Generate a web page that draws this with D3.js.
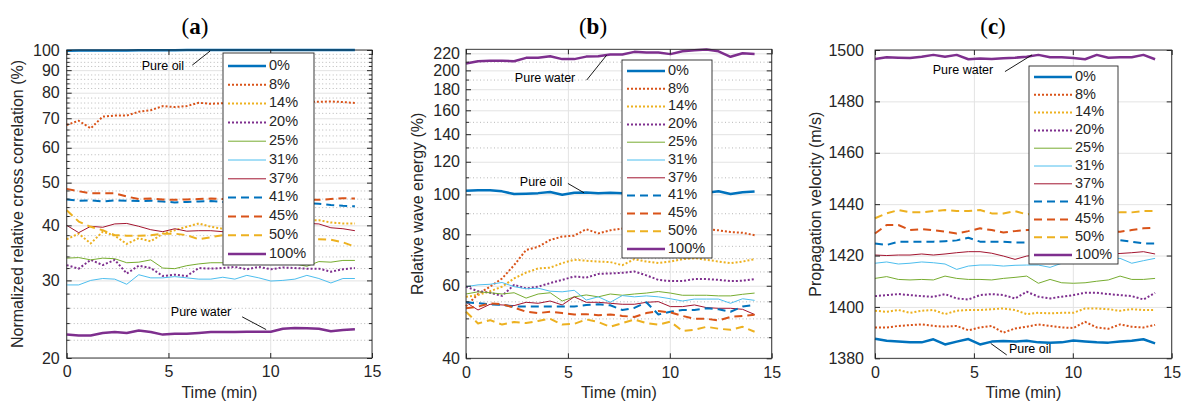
<!DOCTYPE html>
<html>
<head>
<meta charset="utf-8">
<script src="https://cdn.jsdelivr.net/npm/d3@7"></script>
<style>
  body { margin: 0; background: #fff; }
  svg text { font-family: 'Liberation Sans', Arial, sans-serif; fill: #262626; }
</style>
</head>
<body>
<svg id="chart" width="1182" height="405"></svg>
<script>
  // time axis (min), shared by all three panels
  var time = [0, 0.59, 1.18, 1.77, 2.36, 2.95, 3.54, 4.13, 4.72, 5.31, 5.9, 6.49, 7.08,
    7.67, 8.26, 8.85, 9.44, 10.03, 10.62, 11.21, 11.8, 12.39, 12.98, 13.57, 14.16];

  var labels = ['0%', '8%', '14%', '20%', '25%', '31%', '37%', '41%', '45%', '50%', '100%'];
  var colors = ['#0072BD', '#D95319', '#EDB120', '#7E2F8E', '#77AC30', '#4DBEEE', '#A2142F',
    '#0072BD', '#D95319', '#EDB120', '#7E2F8E'];
  var styles = ['thick', 'dot', 'dot', 'dot', 'thin', 'thin', 'thin', 'dash', 'dash', 'dash', 'thick'];

  var xTicks = [0, 5, 10, 15];

  // (a) normalized relative cross correlation (%)
  var corrValues = [
    [99.6, 99.7, 99.7, 99.8, 99.8, 99.8, 99.9, 99.9, 99.9, 99.9, 100, 100, 100, 100, 100, 100, 100, 100, 100, 100, 100, 100, 100, 100, 100],
    [67.6, 69.1, 66.4, 70.6, 71.0, 71.0, 72.4, 73.0, 74.6, 74.2, 74.6, 75.9, 75.5, 75.7, 76.0, 76.2, 76.0, 76.3, 76.5, 76.2, 76.4, 76.3, 76.4, 76.2, 75.8],
    [37.2, 38.3, 36.4, 38.7, 37.9, 36.3, 37.4, 36.8, 38.3, 39.0, 39.7, 40.4, 39.7, 39.3, 40.0, 40.5, 40.2, 40.8, 41.0, 40.6, 41.1, 41.1, 40.6, 40.4, 40.4],
    [32.5, 31.9, 33.4, 32.5, 33.4, 31.1, 32.4, 32.0, 30.7, 30.9, 30.7, 32.0, 31.9, 32.0, 32.2, 31.8, 32.2, 31.8, 32.1, 32.0, 31.9, 31.9, 31.4, 31.8, 32.0],
    [33.7, 33.8, 33.4, 33.7, 33.6, 32.9, 33.0, 33.4, 32.0, 31.9, 32.4, 32.7, 32.9, 32.9, 32.8, 33.0, 32.8, 32.9, 33.0, 32.7, 32.3, 33.1, 33.0, 33.3, 33.3],
    [29.3, 29.3, 30.0, 30.3, 30.2, 29.4, 30.9, 30.4, 30.4, 30.6, 30.4, 30.2, 30.2, 30.5, 30.2, 30.8, 30.4, 29.9, 30.0, 30.2, 30.8, 30.3, 29.6, 30.3, 30.3],
    [40.0, 38.5, 39.8, 39.6, 40.3, 40.4, 39.8, 39.1, 38.7, 39.3, 38.8, 38.9, 38.9, 38.7, 39.0, 39.5, 39.8, 40.0, 40.2, 40.3, 40.4, 40.3, 39.5, 39.3, 38.9],
    [45.8, 45.5, 45.6, 45.3, 45.6, 45.5, 45.4, 45.5, 45.3, 45.1, 45.2, 45.3, 45.4, 45.2, 45.3, 45.1, 45.0, 45.0, 45.1, 45.0, 44.9, 44.8, 44.5, 44.3, 44.2],
    [48.4, 47.8, 47.3, 47.3, 47.3, 46.5, 45.9, 46.0, 45.8, 45.7, 45.8, 45.9, 46.0, 45.9, 46.0, 45.9, 45.8, 45.9, 45.9, 46.0, 45.8, 45.7, 45.9, 46.1, 46.0],
    [43.3, 40.8, 39.7, 39.0, 38.0, 37.9, 37.9, 38.0, 38.3, 38.3, 38.0, 37.2, 37.6, 38.0, 37.8, 37.5, 37.6, 37.4, 37.5, 37.4, 37.2, 37.2, 37.1, 36.6, 35.8],
    [22.6, 22.5, 22.5, 22.8, 22.9, 22.8, 23.1, 22.9, 22.6, 22.7, 22.7, 22.8, 22.9, 22.9, 22.9, 22.95, 22.95, 22.95, 23.3, 23.4, 23.35, 23.3, 23.0, 23.15, 23.25]
  ];
  var corrTicks = [20, 30, 40, 50, 60, 70, 80, 90, 100];

  // (b) relative wave energy (%)
  var energyValues = [
    [102.0, 102.3, 102.3, 101.7, 100.2, 100.4, 100.7, 101.3, 99.8, 100.9, 101.1, 100.7, 100.9, 100.7, 100.5, 100.6, 100.8, 100.6, 100.4, 100.8, 100.9, 101.8, 100.2, 101.2, 101.6],
    [53.5, 57.3, 59.7, 62.5, 67.3, 73.3, 74.6, 77.5, 79.0, 79.4, 82.3, 80.4, 81.8, 82.6, 82.0, 82.5, 81.8, 82.2, 82.6, 82.0, 82.4, 81.8, 81.0, 80.7, 79.6],
    [56.4, 57.0, 58.2, 59.7, 62.5, 64.6, 66.1, 66.4, 68.1, 69.4, 69.0, 68.7, 68.5, 67.3, 69.6, 68.7, 68.1, 68.7, 69.6, 70.0, 69.4, 68.7, 68.1, 68.7, 69.6],
    [59.7, 58.2, 57.7, 56.7, 60.3, 59.1, 59.7, 60.9, 62.0, 63.2, 62.8, 64.1, 64.3, 64.5, 65.0, 63.6, 62.0, 61.6, 61.6, 62.3, 62.3, 62.0, 61.6, 61.7, 62.3],
    [57.3, 58.0, 57.7, 57.3, 57.7, 56.0, 57.3, 57.7, 55.1, 56.4, 57.0, 56.4, 57.3, 56.9, 57.3, 57.6, 58.1, 57.6, 56.9, 56.9, 56.9, 56.7, 56.7, 57.2, 57.6],
    [59.7, 60.3, 60.5, 61.1, 59.7, 59.0, 59.2, 58.2, 58.0, 58.5, 55.4, 56.4, 54.7, 56.8, 56.4, 56.7, 56.4, 55.8, 55.1, 55.7, 55.7, 55.7, 54.4, 55.8, 55.3],
    [54.7, 52.4, 54.1, 53.9, 53.7, 54.7, 54.4, 55.1, 53.9, 56.4, 54.7, 54.7, 54.4, 54.1, 54.1, 54.7, 54.9, 53.4, 53.4, 53.9, 53.1, 52.9, 52.9, 52.6, 51.1],
    [54.7, 54.4, 54.1, 53.9, 53.4, 53.4, 53.4, 53.4, 53.4, 53.4, 53.9, 54.1, 53.8, 52.4, 53.0, 54.7, 51.1, 51.9, 52.4, 52.4, 52.9, 52.6, 51.9, 53.4, 53.9],
    [52.9, 53.4, 54.4, 54.1, 53.1, 51.9, 51.5, 51.9, 51.5, 51.1, 51.2, 50.9, 51.1, 50.7, 50.4, 51.5, 52.1, 51.7, 50.7, 49.9, 49.9, 49.4, 50.4, 50.7, 51.0],
    [51.9, 48.6, 49.5, 48.3, 49.0, 48.7, 49.3, 49.9, 48.3, 48.5, 49.7, 49.0, 47.7, 48.7, 49.7, 48.7, 48.3, 49.1, 46.6, 46.9, 47.7, 47.2, 46.9, 47.7, 46.4],
    [207.9, 210.5, 211.0, 211.0, 210.5, 214.5, 214.5, 216.5, 213.0, 213.0, 216.0, 216.5, 218.6, 218.6, 221.8, 221.0, 221.0, 219.0, 222.5, 223.9, 224.7, 222.5, 215.8, 220.0, 219.3]
  ];
  var energyTicks = [40, 60, 80, 100, 120, 140, 160, 180, 200, 220];
  var energyMinor = [45, 50, 55, 65, 70, 75, 90, 110, 130, 150, 170, 190, 210];

  // (c) propagation velocity (m/s)
  var velocityValues = [
    [1387.6, 1386.8, 1386.5, 1386.2, 1386.2, 1387.4, 1385.4, 1386.5, 1387.5, 1385.4, 1386.5, 1386.7, 1386.5, 1386.8, 1386.2, 1386.1, 1386.2, 1386.9, 1386.5, 1386.2, 1386.1, 1386.5, 1386.8, 1387.4, 1385.8],
    [1392.0, 1392.0, 1392.6, 1392.9, 1393.2, 1392.6, 1392.3, 1392.6, 1390.9, 1392.0, 1392.6, 1390.0, 1391.6, 1392.3, 1393.2, 1392.6, 1392.0, 1391.8, 1394.2, 1392.0, 1391.5, 1393.2, 1392.3, 1392.0, 1393.0],
    [1398.5, 1398.1, 1398.8, 1397.7, 1398.5, 1398.8, 1397.2, 1398.5, 1398.8, 1398.8, 1399.1, 1399.4, 1398.8, 1397.2, 1397.7, 1397.5, 1397.7, 1397.7, 1399.4, 1399.4, 1399.1, 1398.5, 1399.1, 1398.8, 1398.8],
    [1404.2, 1404.6, 1405.0, 1404.6, 1404.2, 1403.9, 1405.0, 1403.3, 1402.9, 1404.6, 1405.0, 1404.6, 1403.3, 1405.9, 1404.0, 1403.3, 1404.0, 1404.6, 1405.5, 1405.5, 1405.0, 1404.6, 1404.2, 1402.9, 1405.5],
    [1411.1, 1411.8, 1410.7, 1410.5, 1410.7, 1410.5, 1412.0, 1411.1, 1410.7, 1410.7, 1410.5, 1411.1, 1411.5, 1412.0, 1409.2, 1410.7, 1409.4, 1409.2, 1409.4, 1410.0, 1410.5, 1412.0, 1410.7, 1410.7, 1411.1],
    [1417.0, 1417.5, 1416.7, 1417.0, 1417.5, 1417.2, 1416.7, 1414.6, 1415.9, 1416.3, 1416.3, 1415.9, 1416.2, 1416.3, 1416.3, 1415.4, 1417.0, 1417.6, 1418.0, 1418.0, 1418.5, 1418.9, 1417.0, 1418.0, 1418.9],
    [1420.2, 1420.0, 1420.2, 1420.2, 1420.6, 1420.2, 1420.6, 1421.1, 1421.5, 1421.5, 1420.9, 1419.8, 1418.5, 1419.8, 1420.3, 1420.5, 1420.6, 1420.5, 1420.4, 1420.5, 1420.6, 1420.8, 1421.1, 1421.5, 1420.6],
    [1424.7, 1424.1, 1425.4, 1425.4, 1425.4, 1425.4, 1425.6, 1425.9, 1426.9, 1425.4, 1425.4, 1425.4, 1425.1, 1425.1, 1425.2, 1425.0, 1425.3, 1425.5, 1425.4, 1425.6, 1425.8, 1426.0, 1425.4, 1424.7, 1424.7],
    [1428.6, 1431.9, 1431.9, 1429.9, 1430.3, 1429.9, 1429.3, 1428.6, 1429.5, 1430.6, 1429.9, 1429.0, 1429.5, 1429.9, 1430.0, 1429.5, 1429.8, 1430.0, 1429.5, 1429.2, 1429.0, 1429.3, 1429.9, 1430.6, 1430.8],
    [1434.5, 1436.4, 1437.7, 1436.8, 1436.8, 1437.3, 1437.7, 1437.3, 1437.3, 1437.7, 1436.4, 1436.4, 1437.3, 1436.0, 1436.5, 1437.0, 1436.8, 1437.0, 1436.5, 1437.0, 1437.3, 1436.8, 1436.8, 1437.3, 1437.3],
    [1496.5, 1497.2, 1497.0, 1496.9, 1497.4, 1498.1, 1497.4, 1498.1, 1496.4, 1496.7, 1496.5, 1496.8, 1497.0, 1497.4, 1498.1, 1497.2, 1497.2, 1496.9, 1496.4, 1498.1, 1497.0, 1497.2, 1497.2, 1498.1, 1496.4]
  ];
  var velocityTicks = [1380, 1400, 1420, 1440, 1460, 1480, 1500];

  // annotations: [text, textT, textV, lineT1, lineV1, lineT2, lineV2]
  var corrNotes = [['Pure oil', 4.73, 91.5, 6.17, 92.4, 7.05, 99.5], ['Pure water', 6.6, 25.3, 8.62, 24.8, 9.8, 23.2]];
  var energyNotes = [['Pure water', 3.88, 191, 5.92, 189.4, 6.9, 217.7], ['Pure oil', 3.68, 106.7, 5.0, 106.3, 5.79, 100.9]];
  var velocityNotes = [['Pure water', 4.45, 1491.8, 6.57, 1491.6, 7.94, 1498.1], ['Pure oil', 7.84, 1383.2, 5.85, 1385.8, 6.66, 1381.3]];

  var svg = d3.select('#chart');

  var panels = [
    { title: '(a)', values: corrValues, log: true, domain: [20, 100], ticks: corrTicks,
      minor: d3.range(22, 100, 2).filter(d => d % 10 !== 0),
      yLabel: 'Normalized relative cross correlation (%)', notes: corrNotes,
      left: 66.7, right: 372, top: 50, bottom: 358, pad: 7, labelX: 19, titleX: 195,
      legend: { x: 223, y: 53, w: 91, h: 212, first: 66, step: 18.8 } },
    { title: '(b)', values: energyValues, log: true, domain: [40, 225], ticks: energyTicks,
      minor: energyMinor,
      yLabel: 'Relative wave energy (%)', notes: energyNotes,
      left: 466, right: 771.7, top: 49.3, bottom: 358.3, pad: 6, labelX: 418.5, titleX: 593,
      legend: { x: 622, y: 60, w: 90, h: 198, first: 71, step: 17.8 } },
    { title: '(c)', values: velocityValues, log: false, domain: [1380, 1500], ticks: velocityTicks,
      minor: [],
      yLabel: 'Propagation velocity (m/s)', notes: velocityNotes,
      left: 875, right: 1171.7, top: 50, bottom: 358.3, pad: 11, labelX: 817, titleX: 993,
      legend: { x: 1029, y: 66, w: 89, h: 198, first: 77, step: 17.8 } }
  ];

  function lineStyle(sel, i) {
    var s = styles[i];
    sel.attr('stroke', colors[i])
      .attr('fill', 'none')
      .attr('stroke-linejoin', 'round')
      .attr('stroke-width', s === 'thick' ? 2.5 : s === 'thin' ? 1 : 2)
      .attr('stroke-dasharray', s === 'dot' ? '2,2' : s === 'dash' ? '8,5' : null);
  }

  panels.forEach(function (p) {
    var g = svg.append('g');
    var w = p.right - p.left, h = p.bottom - p.top;
    var x = d3.scaleLinear().domain([0, 15]).range([p.left, p.right]);
    var y = (p.log ? d3.scaleLog() : d3.scaleLinear()).domain(p.domain).range([p.bottom, p.top]);

    // minor grid (dotted)
    g.append('g')
      .attr('transform', `translate(${p.left},0)`)
      .call(d3.axisLeft(y).tickValues(p.minor).tickSize(-w).tickFormat(''))
      .call(s => {
        s.select('.domain').remove();
        s.selectAll('line').attr('stroke', '#b8b8b8').attr('stroke-dasharray', '1,2.5');
      });

    // major grid
    g.append('g')
      .attr('transform', `translate(${p.left},0)`)
      .call(d3.axisLeft(y).tickValues(p.ticks).tickSize(-w).tickFormat(''))
      .call(s => { s.select('.domain').remove(); s.selectAll('line').attr('stroke', '#e3e3e3'); });
    g.append('g')
      .attr('transform', `translate(0,${p.bottom})`)
      .call(d3.axisBottom(x).tickValues(xTicks).tickSize(-h).tickFormat(''))
      .call(s => { s.select('.domain').remove(); s.selectAll('line').attr('stroke', '#e3e3e3'); });

    // data lines
    var line = d3.line().x((d, i) => x(time[i])).y(d => y(d));
    p.values.forEach(function (vals, i) {
      g.append('path').datum(vals).attr('d', line).call(lineStyle, i);
    });

    // annotations
    p.notes.forEach(function (n) {
      g.append('text')
        .attr('x', x(n[1])).attr('y', y(n[2]))
        .attr('text-anchor', 'middle').attr('dominant-baseline', 'middle')
        .style('font-size', '12.5px').style('fill', '#000')
        .text(n[0]);
      g.append('line')
        .attr('x1', x(n[3])).attr('y1', y(n[4]))
        .attr('x2', x(n[5])).attr('y2', y(n[6]))
        .attr('stroke', '#000').attr('stroke-width', 0.9);
    });

    // box
    g.append('rect')
      .attr('x', p.left).attr('y', p.top).attr('width', w).attr('height', h)
      .attr('fill', 'none').attr('stroke', '#262626').attr('stroke-width', 0.9);

    // ticks + labels
    var tickStyle = s => {
      s.select('.domain').remove();
      s.selectAll('line').attr('stroke', '#262626');
      s.selectAll('text').style('font-size', '16px').style('font-family', null);
    };
    g.append('g').attr('transform', `translate(${p.left},0)`)
      .call(d3.axisLeft(y).tickValues(p.ticks).tickSizeInner(-5).tickSizeOuter(0).tickPadding(p.pad).tickFormat(d3.format('d')))
      .call(tickStyle);
    g.append('g').attr('transform', `translate(${p.right},0)`)
      .call(d3.axisRight(y).tickValues(p.ticks).tickSizeInner(-5).tickSizeOuter(0).tickFormat(''))
      .call(tickStyle);
    g.append('g').attr('transform', `translate(${p.left},0)`)
      .call(d3.axisLeft(y).tickValues(p.minor).tickSizeInner(-3).tickSizeOuter(0).tickFormat(''))
      .call(tickStyle);
    g.append('g').attr('transform', `translate(${p.right},0)`)
      .call(d3.axisRight(y).tickValues(p.minor).tickSizeInner(-3).tickSizeOuter(0).tickFormat(''))
      .call(tickStyle);
    g.append('g').attr('transform', `translate(0,${p.bottom})`)
      .call(d3.axisBottom(x).tickValues(xTicks).tickSizeInner(-5).tickSizeOuter(0).tickPadding(8))
      .call(tickStyle);
    g.append('g').attr('transform', `translate(0,${p.top})`)
      .call(d3.axisTop(x).tickValues(xTicks).tickSizeInner(-5).tickSizeOuter(0).tickFormat(''))
      .call(tickStyle);

    // axis labels
    g.append('text')
      .attr('x', (p.left + p.right) / 2).attr('y', 398)
      .attr('text-anchor', 'middle').style('font-size', '16px')
      .text('Time (min)');
    g.append('text')
      .attr('transform', `translate(${p.labelX},${(p.top + p.bottom) / 2}) rotate(-90)`)
      .attr('text-anchor', 'middle').attr('dominant-baseline', 'middle')
      .style('font-size', '16px')
      .text(p.yLabel);

    // title
    var t = g.append('text')
      .attr('x', p.titleX).attr('y', 34)
      .attr('text-anchor', 'middle')
      .style('font-family', "'Liberation Serif', 'DejaVu Serif', serif")
      .style('font-size', '23px').style('fill', '#000');
    t.append('tspan').text('(');
    t.append('tspan').style('font-weight', 'bold').text(p.title.slice(1, 2));
    t.append('tspan').text(')');

    // legend
    var L = p.legend;
    var lg = g.append('g');
    lg.append('rect')
      .attr('x', L.x).attr('y', L.y).attr('width', L.w).attr('height', L.h)
      .attr('fill', '#fff').attr('stroke', '#262626').attr('stroke-width', 0.9);
    labels.forEach(function (name, i) {
      var ly = L.first + i * L.step;
      lg.append('line')
        .attr('x1', L.x + 5).attr('x2', L.x + 43).attr('y1', ly).attr('y2', ly)
        .call(lineStyle, i);
      lg.append('text')
        .attr('x', L.x + 46).attr('y', ly)
        .attr('dominant-baseline', 'middle')
        .style('font-size', '14.5px')
        .text(name);
    });
  });
</script>
</body>
</html>
